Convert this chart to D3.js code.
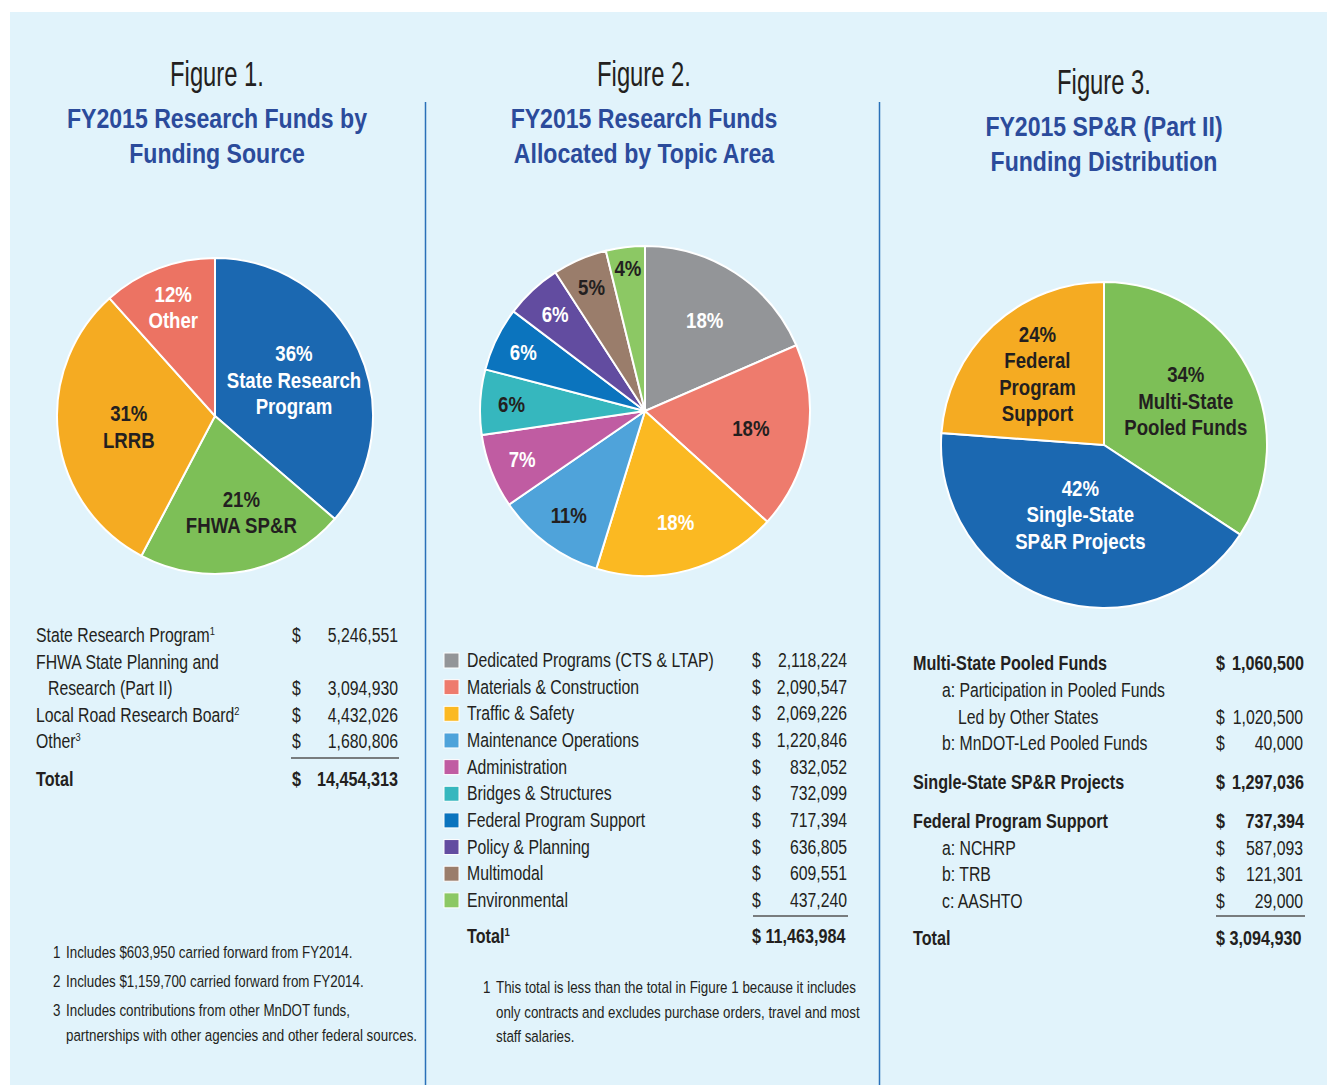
<!DOCTYPE html>
<html>
<head>
<meta charset="utf-8">
<script src="https://cdn.jsdelivr.net/npm/d3@7"></script>
<style>
  body { margin: 0; background: #fff; }
  svg text { font-family: "Liberation Sans", Arial, "Roboto", sans-serif; fill: #231f20; }
</style>
</head>
<body>
<svg id="chart" width="1327" height="1085"></svg>
<script>
// ---- Figure 1: research funds by funding source
var fig1Sources = ["State Research Program", "FHWA State Planning and Research (Part II)", "Local Road Research Board", "Other"];
var fig1TableLabels = [["State Research Program"], ["FHWA State Planning and", "Research (Part II)"], ["Local Road Research Board"], ["Other"]];
var fig1Notes = ["1", "", "2", "3"];
var fig1Amounts = [5246551, 3094930, 4432026, 1680806];
var fig1Total = 14454313;
var fig1PieNames = [["State Research", "Program"], ["FHWA SP&R"], ["LRRB"], ["Other"]];
var fig1Footnotes = [
    ["1", "Includes $603,950 carried forward from FY2014."],
    ["2", "Includes $1,159,700 carried forward from FY2014."],
    ["3", "Includes contributions from other MnDOT funds,", "partnerships with other agencies and other federal sources."]
];

// ---- Figure 2: research funds by topic area
var fig2Topics = ["Dedicated Programs (CTS & LTAP)", "Materials & Construction", "Traffic & Safety", "Maintenance Operations",
    "Administration", "Bridges & Structures", "Federal Program Support", "Policy & Planning", "Multimodal", "Environmental"];
var fig2Amounts = [2118224, 2090547, 2069226, 1220846, 832052, 732099, 717394, 636805, 609551, 437240];
var fig2Total = 11463984;
var fig2Footnote = ["1", "This total is less than the total in Figure 1 because it includes",
    "only contracts and excludes purchase orders, travel and most", "staff salaries."];

// ---- Figure 3: SP&R (Part II) funding distribution
var fig3Groups = ["Multi-State Pooled Funds", "Single-State SP&R Projects", "Federal Program Support"];
var fig3Amounts = [1060500, 1297036, 737394];
var fig3PieNames = [["Multi-State", "Pooled Funds"], ["Single-State", "SP&R Projects"], ["Federal", "Program", "Support"]];
var fig3SubLabels = [
    [["a: Participation in Pooled Funds", "Led by Other States"], ["b: MnDOT-Led Pooled Funds"]],
    [],
    [["a: NCHRP"], ["b: TRB"], ["c: AASHTO"]]
];
var fig3SubAmounts = [[1020500, 40000], [], [587093, 121301, 29000]];
var fig3Total = 3094930;

// ---- styles
var titleBlue = "#2b4b9b";
var dark = "#231f20";
var fig1Colors = ["#1b68b1", "#7dbf57", "#f5ab22", "#ec7363"];
var fig1LabelColors = ["#fff", dark, dark, "#fff"];
var fig1LabelR = [0.55, 0.62, 0.55, 0.74];
var fig1LabelShift = [0, 8, 0, 0];
var fig2Colors = ["#939598", "#ee7b6d", "#fbb922", "#4fa3da", "#c05ca2", "#36b7be", "#0b74be", "#624ca0", "#9a7d6b", "#8cc864"];
var fig2LabelColors = ["#fff", dark, "#fff", dark, "#fff", dark, "#fff", "#fff", dark, dark];
var fig2LabelR = [0.66, 0.65, 0.7, 0.78, 0.8, 0.81, 0.82, 0.8, 0.82, 0.87];
var fig3Colors = ["#7dbf57", "#1b68b1", "#f5ab22"];
var fig3LabelColors = [dark, "#fff", dark];
var fig3LabelR = [0.57, 0.45, 0.6];
var narrow = 0.81; // horizontal squeeze to mimic the condensed face

var fmt = d3.format(",");
var svg = d3.select("#chart");

svg.append("rect").attr("x", 10).attr("y", 12).attr("width", 1317).attr("height", 1073).attr("fill", "#e1f3fb");
[425.5, 879.5].forEach(function(x) {
    svg.append("line").attr("x1", x).attr("x2", x).attr("y1", 102).attr("y2", 1085)
        .attr("stroke", "#2a70b8").attr("stroke-width", 1.5);
});

function text(x, y, s, o, parent) {
    o = o || {};
    return (parent || svg).append("text")
        .attr("transform", "translate(" + x + "," + y + ") scale(" + (o.sx || narrow) + ",1)")
        .attr("text-anchor", o.anchor || "start")
        .attr("font-size", o.size || 19.5)
        .attr("font-weight", o.bold ? "bold" : "normal")
        .style("fill", o.color || dark)
        .text(s);
}

function sup(t, s) {
    if (!s) return;
    t.append("tspan").attr("dy", -7).attr("font-size", 11.5).text(s);
}

function money(xDollar, xRight, y, v, bold) {
    text(xDollar, y, "$", { bold: bold, sx: bold ? 0.83 : narrow });
    text(xRight, y, fmt(v), { anchor: "end", bold: bold, sx: bold ? 0.83 : narrow });
}

function titles(cx, y0, num, lines) {
    text(cx, y0, "Figure " + num + ".", { anchor: "middle", size: 35, sx: 0.68 });
    lines.forEach(function(l, i) {
        text(cx, y0 + 42 + i * 35, l, { anchor: "middle", size: 28.5, bold: true, color: titleBlue });
    });
}

function drawPie(cx, cy, r, values, names, colors, labelColors, labelR, shift) {
    var total = d3.sum(values);
    var arcs = d3.pie().sort(null).value(function(d) { return d; })(values);
    var arc = d3.arc().innerRadius(0).outerRadius(r);
    var g = svg.append("g").attr("transform", "translate(" + cx + "," + cy + ")");
    g.selectAll("path").data(arcs).join("path")
        .attr("d", arc)
        .attr("fill", function(d, i) { return colors[i]; })
        .attr("stroke", "#fff").attr("stroke-width", 2);
    arcs.forEach(function(d, i) {
        var lr = r * labelR[i];
        var c = d3.arc().innerRadius(lr).outerRadius(lr).centroid(d);
        var lines = [Math.round(values[i] / total * 100) + "%"].concat(names ? names[i] : []);
        lines.forEach(function(s, j) {
            text(c[0] + (shift ? shift[i] : 0), c[1] + (j - (lines.length - 1) / 2) * 26.5 + 8, s,
                { anchor: "middle", size: 23, bold: true, color: labelColors[i] }, g);
        });
    });
}

// ---- Figure 1
titles(217, 86, 1, ["FY2015 Research Funds by", "Funding Source"]);
drawPie(215, 416, 158, fig1Amounts, fig1PieNames, fig1Colors, fig1LabelColors, fig1LabelR, fig1LabelShift);
var y = 642;
fig1TableLabels.forEach(function(lines, i) {
    lines.forEach(function(l, j) {
        var t = text(j ? 48 : 36, y, l);
        if (j === lines.length - 1) sup(t, fig1Notes[i]);
        if (j < lines.length - 1) y += 26.5;
    });
    money(292, 398, y, fig1Amounts[i]);
    y += 26.5;
});
svg.append("line").attr("x1", 291).attr("x2", 399).attr("y1", y - 16.5).attr("y2", y - 16.5)
    .attr("stroke", "#555").attr("stroke-width", 1.5);
text(36, y + 11.5, "Total", { bold: true, sx: 0.83 });
money(292, 398, y + 11.5, fig1Total, true);
var fy = 958;
fig1Footnotes.forEach(function(n) {
    text(53, fy, n[0], { size: 16.5 });
    n.slice(1).forEach(function(l, j) {
        text(66, fy, l, { size: 16.5 });
        fy += j < n.length - 2 ? 25 : 29;
    });
});

// ---- Figure 2
titles(644, 86, 2, ["FY2015 Research Funds", "Allocated by Topic Area"]);
drawPie(645, 411, 165, fig2Amounts, null, fig2Colors, fig2LabelColors, fig2LabelR);
fig2Topics.forEach(function(name, i) {
    var yy = 667 + i * 26.65;
    svg.append("rect").attr("x", 444).attr("y", yy - 14).attr("width", 15).attr("height", 15)
        .attr("fill", fig2Colors[i]).attr("stroke", "#fff").attr("stroke-width", 1);
    text(467, yy, name);
    money(752, 847, yy, fig2Amounts[i]);
});
svg.append("line").attr("x1", 753).attr("x2", 848).attr("y1", 916).attr("y2", 916)
    .attr("stroke", "#555").attr("stroke-width", 1.5);
sup(text(467, 943, "Total", { bold: true, sx: 0.83 }), "1");
text(752, 943, "$ " + fmt(fig2Total), { bold: true, sx: 0.83 });
text(483, 993, fig2Footnote[0], { size: 16.5 });
fig2Footnote.slice(1).forEach(function(l, i) {
    text(496, 993 + i * 24.5, l, { size: 16.5 });
});

// ---- Figure 3
titles(1104, 94, 3, ["FY2015 SP&R (Part II)", "Funding Distribution"]);
drawPie(1104, 445, 163, fig3Amounts, fig3PieNames, fig3Colors, fig3LabelColors, fig3LabelR);
var y3 = 670;
fig3Groups.forEach(function(name, i) {
    text(913, y3, name, { bold: true, sx: 0.83 });
    text(1216, y3, "$", { bold: true, sx: 0.83 });
    text(1304, y3, fmt(fig3Amounts[i]), { anchor: "end", bold: true, sx: 0.83 });
    y3 += 27;
    fig3SubLabels[i].forEach(function(lines, k) {
        lines.forEach(function(l, j) {
            text(j ? 958 : 942, y3, l);
            if (j < lines.length - 1) y3 += 26.5;
        });
        money(1216, 1303, y3, fig3SubAmounts[i][k]);
        y3 += 26.5;
    });
    y3 += 12;
});
svg.append("line").attr("x1", 1216).attr("x2", 1305).attr("y1", 916).attr("y2", 916)
    .attr("stroke", "#555").attr("stroke-width", 1.5);
text(913, 945, "Total", { bold: true, sx: 0.83 });
text(1216, 945, "$ " + fmt(fig3Total), { bold: true, sx: 0.83 });
</script>
</body>
</html>
